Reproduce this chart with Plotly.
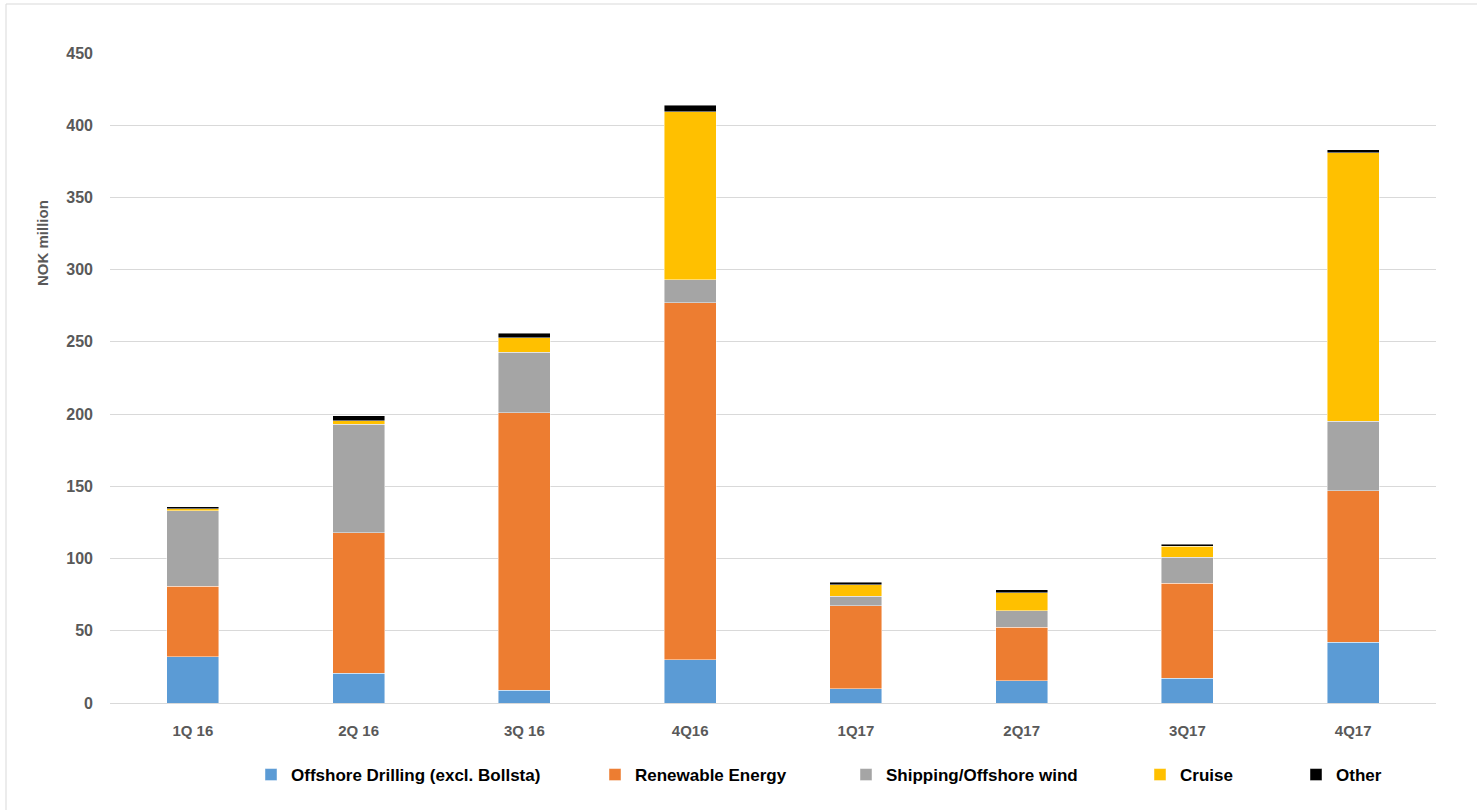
import plotly.graph_objects as go

categories = ["1Q 16", "2Q 16", "3Q 16", "4Q16", "1Q17", "2Q17", "3Q17", "4Q17"]
offshore_drilling = [32, 20.5, 9, 30, 10, 15.5, 17, 42]
renewable_energy = [49, 97.5, 192, 247, 57.5, 37, 66, 105]
shipping_wind = [52, 75, 42, 16, 6.5, 11.3, 18, 48]
cruise = [1.5, 2.5, 10, 116.5, 8, 12.7, 7.4, 186]
other = [1.5, 3.5, 3, 4.4, 1.5, 1.8, 1.4, 2]

series = [
    ("Offshore Drilling (excl. Bollsta)", offshore_drilling, "#5B9BD5", "legend", 293),
    ("Renewable Energy", renewable_energy, "#ED7D31", "legend2", 637),
    ("Shipping/Offshore wind", shipping_wind, "#A5A5A5", "legend3", 888),
    ("Cruise", cruise, "#FFC000", "legend4", 1182),
    ("Other", other, "#000000", "legend5", 1338),
]

W, H = 1477, 810
L, R, T, B = 110, 41, 53, 107
pw, ph = W - L - R, H - T - B

fig = go.Figure()
legend_layouts = {}
for name, vals, color, lg, text_x in series:
    fig.add_trace(go.Bar(
        x=categories, y=vals, name=name, legend=lg,
        marker=dict(color=color, line=dict(color="rgba(255,255,255,0.6)", width=0.75)),
    ))
    legend_layouts[lg] = dict(
        xref="container", yref="container",
        x=(text_x - 42) / W, y=1 - 775 / H, xanchor="left", yanchor="middle",
        orientation="h", itemwidth=30, bgcolor="rgba(0,0,0,0)",
        font=dict(family="Liberation Sans Narrow, Liberation Sans, Arial", size=17, color="#000000"),
    )

tick_font = dict(family="Liberation Sans, Arial", size=16, color="#595959")

fig.update_layout(
    width=W, height=H,
    margin=dict(l=L, r=R, t=T, b=B),
    paper_bgcolor="white", plot_bgcolor="white",
    barmode="stack", bargap=0.686,
    showlegend=True,
    font=dict(family="Liberation Sans, Arial", color="#595959"),
    xaxis=dict(
        type="category", showgrid=False, showline=True, linecolor="#d9d9d9", linewidth=1,
        ticks="", tickfont=dict(family="Liberation Sans, Arial", size=15, color="#595959"),
        ticklabelstandoff=14,
    ),
    yaxis=dict(
        range=[0, 450], dtick=50, showgrid=True, gridcolor="#d9d9d9", gridwidth=1,
        zeroline=True, zerolinecolor="#d9d9d9", zerolinewidth=1,
        ticks="", tickfont=tick_font, ticklabelstandoff=16,
    ),
    annotations=[dict(
        text="<b>NOK million</b>", textangle=-90, showarrow=False,
        xref="paper", yref="paper",
        x=(43 - L) / pw, y=(H - B - 243) / ph, xanchor="center", yanchor="middle",
        font=dict(family="Liberation Sans, Arial", size=15, color="#595959"),
    )],
    shapes=[dict(
        type="rect", xref="paper", yref="paper", layer="below",
        x0=(6 - L) / pw, x1=(W + 5 - L) / pw,
        y0=(H - B - (H + 5)) / ph, y1=(H - B - 4) / ph,
        line=dict(color="#d9d9d9", width=1), fillcolor="rgba(0,0,0,0)",
    )],
    **legend_layouts,
)

fig.update_xaxes(tickfont=dict(weight="bold"))
fig.update_yaxes(tickfont=dict(weight="bold"))
for lg in legend_layouts:
    fig.layout[lg].font.weight = "bold"

fig.write_html("out.html")
